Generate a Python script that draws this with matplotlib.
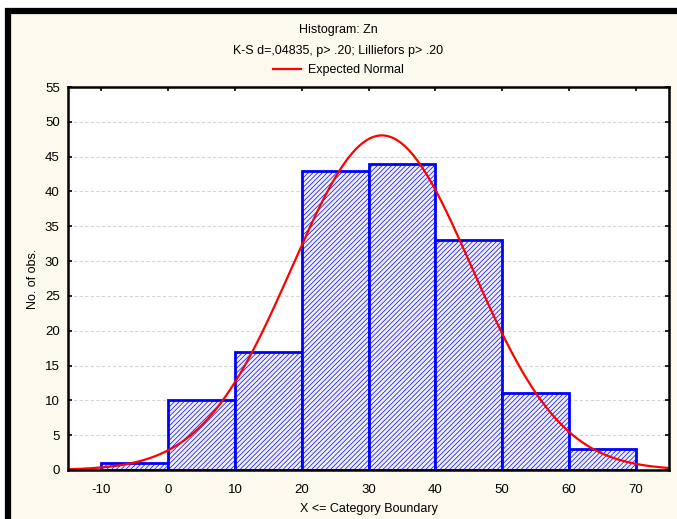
import numpy as np
import matplotlib.pyplot as plt
from matplotlib.patches import Rectangle

plt.rcParams['font.family'] = ['Liberation Sans', 'DejaVu Sans']
plt.rcParams['axes.unicode_minus'] = False
plt.rcParams['hatch.color'] = '#1a1aee'
plt.rcParams['hatch.linewidth'] = 0.5

# histogram bins (upper boundaries) and counts
bin_edges = [-10, 0, 10, 20, 30, 40, 50, 60, 70]
counts = [1, 10, 17, 43, 44, 33, 11, 3]
x_ticks = [-10, 0, 10, 20, 30, 40, 50, 60, 70]
y_ticks = [0, 5, 10, 15, 20, 25, 30, 35, 40, 45, 50, 55]

# fitted normal curve parameters
mu = 32.0
sigma = 13.45

fig = plt.figure(figsize=(6.77, 5.19), dpi=100)
fig.patch.set_facecolor('white')

# cream panel with a heavy black frame on left and top
fig.patches.append(Rectangle((8 / 677, -0.1), 1.2, 1 - 11 / 519 + 0.1,
                             transform=fig.transFigure, facecolor='#fdf9ee',
                             edgecolor='black', linewidth=4.5, zorder=-5))

ax = fig.add_axes([68 / 677, 1 - 470 / 519, (669 - 68) / 677, (470 - 87) / 519])
ax.set_zorder(2)
ax.set_facecolor('white')

lefts = bin_edges[:-1]
widths = np.diff(bin_edges)
ax.bar(lefts, counts, width=widths, align='edge', facecolor='#f0f0fd',
       edgecolor='#0000ff', linewidth=2, hatch='///////', zorder=2)

n = sum(counts)
xs = np.linspace(-15, 75, 400)
ys = n * 10 / (sigma * np.sqrt(2 * np.pi)) * np.exp(-0.5 * ((xs - mu) / sigma) ** 2)
line, = ax.plot(xs, ys, color='#ff0000', linewidth=1.6, zorder=3, label='Expected Normal')

ax.set_xlim(-15, 75)
ax.set_ylim(0, 55)
ax.set_xticks(x_ticks)
ax.set_yticks(y_ticks)
ax.tick_params(direction='in', length=3, width=1.2, labelsize=9.5, top=True, right=True)
ax.tick_params(axis='x', pad=10)
ax.tick_params(axis='y', pad=6)
ax.yaxis.grid(True, linestyle=(0, (3, 2)), color='#d4d4d4', linewidth=0.8, zorder=1)
ax.set_axisbelow(True)
for s in ax.spines.values():
    s.set_linewidth(1.8)
    s.set_zorder(4)

ax.set_xlabel('X <= Category Boundary', fontsize=9, labelpad=5)
ax.set_ylabel('No. of obs.', fontsize=9, labelpad=4)

fig.text(0.5, 1 - 30 / 519, 'Histogram: Zn', ha='center', va='center', fontsize=9)
fig.text(0.5, 1 - 51 / 519, 'K-S d=,04835, p> .20; Lilliefors p> .20',
         ha='center', va='center', fontsize=9)
fig.legend(handles=[line], loc='center', bbox_to_anchor=(0.5, 1 - 70 / 519),
           frameon=False, fontsize=9, handlelength=2.2, handletextpad=0.6)

plt.savefig('out.png', dpi=100, facecolor=fig.get_facecolor())
